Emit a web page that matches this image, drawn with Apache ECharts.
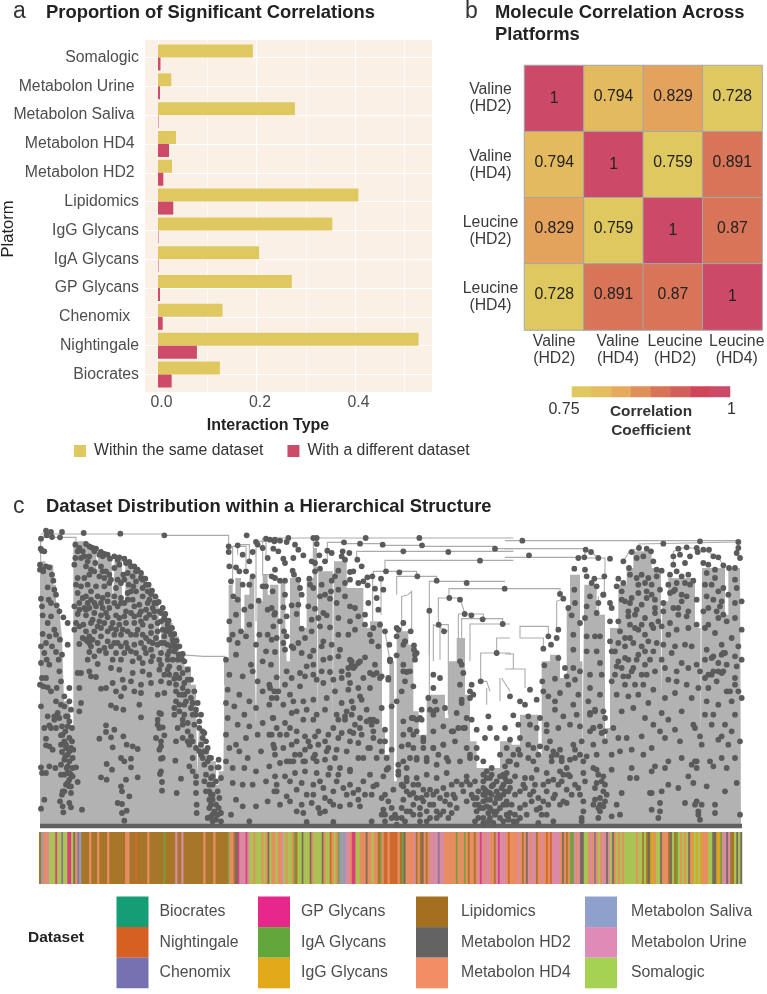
<!DOCTYPE html>
<html><head><meta charset="utf-8">
<style>html,body{margin:0;padding:0;background:#fff}#c{width:767px;height:994px;filter:blur(0.4px)}</style>
<script src="https://cdn.jsdelivr.net/npm/echarts@6/dist/echarts.min.js"></script>
</head><body><div id="c"></div>
<script>
// ---------- panel a ----------
const platforms=['Somalogic','Metabolon Urine\u00a0','Metabolon Saliva\u00a0','Metabolon HD4\u00a0','Metabolon HD2\u00a0','Lipidomics','IgG Glycans','IgA Glycans','GP Glycans','Chenomix\u00a0\u00a0','Nightingale','Biocrates'];
const withinSame=[0.1926,0.027,0.278,0.0365,0.0284,0.4068,0.354,0.2054,0.2716,0.131,0.529,0.1257];
const withDifferent=[0.005,0.004,0.001,0.0223,0.0108,0.031,0.001,0.001,0.004,0.0095,0.079,0.0277];
const axisTicksA=[0,0.2,0.4];
// ---------- panel b ----------
const moleculesY=['Valine\n(HD2)','Valine\n(HD4)','Leucine\n(HD2)','Leucine\n(HD4)'];
const moleculesX=['Valine\n(HD2)','\u00a0\u00a0Valine\n\u00a0\u00a0(HD4)','\u00a0Leucine\n\u00a0(HD2)','\u00a0\u00a0Leucine\n\u00a0\u00a0(HD4)'];
const corr=[[1,0.794,0.829,0.728],[0.794,1,0.759,0.891],[0.829,0.759,1,0.87],[0.728,0.891,0.87,1]];
const scaleSteps=['#DFC860','#E3BD5E','#E5AA5D','#E0915B','#D97358','#D45E5A','#CF4658','#CC4A68'];
// ---------- panel c: strip of dataset codes, one per leaf group ----------
const datasets=['Biocrates','Nightingale','Chenomix','GP Glycans','IgA Glycans','IgG Glycans','Lipidomics','Metabolon HD2','Metabolon HD4','Metabolon Saliva','Metabolon Urine','Somalogic'];
const datasetCodes=['B','N','C','G','A','I','L','2','4','V','U','S'];
const datasetColors=['#159D75','#D65F22','#7671B0','#E7278A','#62A63C','#E2AA1B','#A2701F','#636363','#F38D66','#8EA0CB','#E08AB8','#A6D254'];
const leafStrip1='LV44USSSGSSCSSGGS24CVLLLL4LLL4LLLL4LLLLLLLL44LLLNLLLLL4LLLLLLLALLLLLULLULLLLLLLLLL4LLLL4LLLLLLA44L2GUUUGUSS4SSS4S42S44S';
const leafStrip2='44US4SS4ALSS2SSS24SSSS24SSN4S4AVVVUU4GGSS444244S44LA4NN4NNNN4LA24444UL4L24L4UUUUCUU444444A444A4L44L4UGU4UU44LUGUUU4N';
const leafStrip3='4444U4L42U4UUL44U4N4NUUUU424L4AAU4U22SS4U4C4S4UU2US24S4S4SSSSSS4SSLSL2II4SS2444L2SLAS4S4S24ISISI444SS22IIAUU2ULLS2S2';
// dendrogram silhouette: [leaf position, top of the stems]
const silhouetteL=[12,100,28,150,33,110,52,170,60,240,72,270,78,330,84,520,100,545,105,600,112,40,133,40,150,55,180,68,183,150,188,70,210,85,226,90,231,240,236,95,250,95,258,230,268,105,290,120,305,140,325,165,345,205,368,240,372,420,376,250,392,285,410,325,428,370,445,415,465,470,480,540,484,740,488,610,505,660,520,700,540,770,548,730,562,740,566,400,578,170,590,215,598,150,615,310,625,200,640,150,655,280,660,600,664,220,680,140,695,200];
const silhouetteM=[0,170,25,220,28,540,32,160,46,330,50,400,60,150,90,300,110,150,130,60,141,590,145,130,188,580,192,100,230,180,280,300,300,280,336,600,345,680,358,400,372,760,380,310,415,350,430,550,446,620,470,500,525,570,535,400,560,330,585,500,600,640,620,720,640,720,690,640];
const silhouetteR=[15,620,20,650,45,560,100,680,110,400,135,380,165,450,185,240,195,140,225,400,232,700,238,170,275,260,300,650,305,600,315,300,340,170,365,120,385,70,440,120,468,520,472,220,490,150,570,300,587,640,591,120,660,260,670,120,705,60];
const silhouetteEnd=[2115,60];
// tree connectors: polylines of [leaf, height] pairs
const linksL=[[14,100,14,28,120,28,120,40],[14,18,385,18],[385,22,578,22,578,60],[432,380,502,385,566,385,566,470],[28,110,28,170],[45,118,45,170],[590,170,590,55,630,55,630,120],[605,80,605,50,640,50,640,100],[578,60,590,60],[680,30,680,140,702,140],[660,60,660,280],[655,40,690,40,690,90]];
const linksM=[[0,30,730,30],[130,30,130,90],[172,100,172,43,222,43],[222,47,338,47],[338,52,456,52],[456,55,675,55,675,62,730,62],[260,95,260,70,730,70],[345,130,345,97,730,97],[310,150,310,130,440,130,440,145],[380,200,380,145,500,145,500,158],[478,380,478,160,705,160],[537,210,537,182,704,182],[505,290,505,210,570,210,585,258],[490,400,490,290,535,310],[510,395,510,290,535,290,535,400],[565,330,565,258,640,258,640,274],[575,330,575,272,698,272,698,288],[600,400,600,288,720,288],[632,460,632,375,720,375,720,380],[680,375,680,330,720,330],[632,460,650,460,660,490],[650,530,650,480],[690,520,690,450],[695,450,720,490],[415,200,425,190,425,310],[395,310,395,205,415,200],[345,310,360,400],[308,150,308,280],[333,155,333,260],[478,250,478,620],[535,400,535,560]];
const linksR=[[0,38,700,38,700,60],[0,62,240,62,240,90],[0,88,230,88],[0,182,165,182,165,200],[155,300,155,220,175,212],[190,240,190,300],[45,330,45,295,130,295,130,325],[45,330,115,330,115,360],[0,378,25,378,25,423],[0,423,60,423,60,480],[240,90,300,90,300,145],[258,72,280,90],[268,152,298,152,298,200],[280,255,280,205],[400,48,700,42],[402,48,402,60],[370,72,402,60],[355,100,372,72],[510,60,585,60],[505,110,505,70,530,62],[595,65,640,88,655,112]];
// tree nodes: flat [leaf, height] pairs
const nodesL=[30,8,45,12,78,12,32,22,48,27,72,28,15,32,143,15,253,17,385,22,18,68,25,70,14,62,12,110,20,125,30,115,40,118,12,125,22,130,48,140,52,158,35,178,55,185,60,200,15,212,38,215,18,235,45,225,62,232,70,250,20,262,45,265,82,268,35,285,95,285,55,305,20,318,40,325,30,345,60,320,72,335,95,350,15,355,48,355,25,375,60,372,78,380,32,395,68,395,40,410,15,405,70,430,30,450,18,450,12,470,35,478,45,490,22,475,62,480,75,460,100,480,85,505,60,520,75,530,15,535,100,520,105,545,35,565,55,565,70,570,90,565,100,580,40,592,60,600,78,595,95,595,108,600,88,610,30,632,75,622,100,630,108,640,40,655,30,652,50,665,75,650,90,650,105,660,112,665,78,672,95,680,110,690,85,695,40,715,15,718,58,720,75,710,95,715,110,720,120,718,18,735,30,735,95,735,75,740,100,755,125,762,100,775,85,790,78,800,105,795,25,815,72,820,80,835,100,825,105,838,82,853,15,842,138,845,118,50,130,60,140,70,118,90,135,90,155,100,115,110,150,115,165,125,178,105,195,115,210,130,125,150,145,150,160,140,155,170,190,145,205,150,220,140,235,120,250,110,262,140,275,135,290,145,300,160,315,150,120,170,135,175,165,190,180,175,205,175,220,165,240,180,255,165,278,170,292,175,320,180,335,190,150,205,165,215,185,205,200,210,215,220,235,205,255,210,275,195,300,190,320,205,340,215,355,225,115,235,130,225,145,240,160,240,180,235,200,240,220,240,245,235,265,225,290,215,310,230,330,245,350,240,370,250,125,258,150,262,175,255,195,262,215,268,240,262,265,265,285,255,310,260,330,270,355,268,385,270,395,290,120,285,142,290,165,285,185,295,205,285,225,300,250,290,270,285,295,285,320,290,345,295,365,285,380,305,400,310,115,305,160,325,155,340,170,335,195,325,215,340,235,320,255,320,275,310,300,320,320,320,345,315,360,330,385,325,410,335,185,345,205,360,225,355,245,345,270,345,295,350,315,345,340,340,365,350,395,350,420,355,130,348,160,372,175,385,190,368,240,375,265,375,285,370,310,390,330,375,350,385,375,375,395,395,415,370,425,395,155,395,185,408,230,395,255,395,290,400,320,405,345,400,375,410,400,415,135,435,125,435,160,430,180,447,165,445,225,420,250,425,290,435,320,430,340,440,370,425,395,425,415,452,430,450,445,465,230,465,260,455,285,460,315,470,345,465,375,460,400,465,420,470,440,480,455,490,195,482,210,480,240,490,265,480,255,505,295,490,315,495,365,500,385,495,420,490,445,500,465,510,130,480,135,525,225,532,240,540,262,545,310,530,315,568,375,558,415,540,430,550,445,560,465,540,480,545,130,550,210,592,235,605,365,575,370,600,380,598,425,600,440,590,455,610,475,590,490,580,210,612,225,628,190,632,262,625,360,630,385,622,420,640,440,630,460,650,480,660,230,658,272,650,290,655,305,663,375,655,370,665,495,650,510,670,520,690,255,690,285,692,265,700,418,698,470,690,495,680,212,708,285,718,228,725,375,692,460,715,470,730,505,710,525,720,545,718,195,748,212,755,270,755,305,748,375,730,378,762,435,752,480,745,510,740,530,745,255,775,258,790,378,788,422,795,480,765,505,760,520,770,540,760,555,750,245,825,258,828,258,855,272,848,280,805,265,878,480,795,482,830,482,855,510,790,525,800,530,815,540,830,550,810,555,855,520,840,530,860,540,875,515,870,555,880,160,55,170,60,180,62,195,72,205,78,215,80,235,85,250,88,265,92,280,102,295,115,305,125,315,135,328,152,338,170,348,188,358,205,368,222,380,240,388,258,398,278,408,300,415,318,422,338,430,355,440,378,445,400,455,425,465,455,475,490,485,525,495,560,505,615,515,660,525,690,548,695,548,718,578,55,578,72,605,52,632,22,660,42,690,32,715,40,580,115,600,118,620,80,640,100,650,72,665,50,680,60,695,90,585,160,610,130,630,130,650,145,680,175,592,205,605,215,620,170,640,170,668,218,690,175,710,190,580,280,600,260,625,245,645,235,695,245,715,260,590,320,615,310,640,290,670,320,695,320,580,335,605,345,630,325,660,350,690,370,570,395,600,380,645,410,680,400,705,410,580,440,620,445,650,430,665,460,700,470,575,485,610,500,640,520,680,490,715,490,570,525,595,535,625,560,660,540,700,530,575,570,605,590,640,595,680,585,710,570,570,620,600,650,630,630,665,620,700,620,580,660,610,670,635,690,675,670,715,660,570,700,590,720,625,720,660,730,700,715,590,765,620,770,650,770,690,760,715,790,600,815,620,835,660,835,695,820,640,880,585,860];
const nodesL2=[150,48,165,58,175,70,190,80,200,85,222,92,245,95,270,105,285,115,300,130,320,155,330,170,345,198,362,225,375,255,385,275,395,300,405,320,412,345,420,360,428,380,438,395,125,70,145,85,160,85,175,130,200,130,225,155,245,155,265,155,285,190,125,195,140,210,155,225,175,225,195,225,215,200,235,225,255,225,275,215,295,235,315,250,335,225,355,250,375,280,390,310,130,245,150,245,170,275,190,280,210,255,230,285,250,270,270,250,295,265,315,280,340,260,365,310,385,345,405,355,415,340,130,295,150,310,175,310,195,300,215,310,240,305,260,305,285,320,305,305,330,330,350,345,375,345,400,370,140,330,165,355,150,335,160,345,210,375,235,345,255,355,275,360,300,375,325,360,345,365,370,395,395,380,410,395,430,420,420,440,440,435,400,440,385,440,455,455,440,500,450,520,470,525,480,560,430,500,420,520,430,530,445,530,415,560,440,575,455,585,470,560,490,600,500,630,500,610,510,640,465,625,470,640,455,640,490,670,500,690,505,670,515,700,525,750,530,770,520,790,530,800,520,815,525,830,545,790,548,840,535,850,545,860,530,880,525,865,85,640,90,660,100,670,88,685,100,700,92,720,105,740,100,735,110,745,85,740,95,765,105,775,80,790,90,770,55,575,45,600,80,620,25,600,65,555,85,535,95,565,370,555,365,590,375,640,380,690,372,738];
const nodesM=[55,30,140,30,287,30,448,30,222,43,270,47,338,50,456,52,675,62,400,70,535,72,630,98,348,130,388,133,442,145,500,158,590,165,704,182,538,210,570,215,478,248,584,258,604,262,638,274,698,288,506,290,522,310,680,375,632,460,0,35,15,35,30,38,50,42,10,62,25,70,75,50,85,65,100,82,70,90,40,92,45,105,15,125,5,145,15,150,30,158,45,158,68,128,72,140,85,155,90,180,95,200,130,30,140,48,148,82,125,100,135,105,165,100,172,68,185,75,218,70,238,75,215,85,225,95,262,95,275,115,205,128,250,130,240,132,150,122,135,130,118,152,120,170,155,170,130,180,195,145,185,158,150,205,165,200,180,212,115,235,135,242,160,255,170,262,183,190,205,185,225,165,240,155,265,165,280,160,292,148,307,145,333,152,293,172,315,182,340,185,225,205,200,225,240,235,255,240,295,225,320,210,325,245,285,260,265,265,240,280,205,270,125,275,145,270,95,302,65,232,85,230,45,200,40,238,5,240,15,255,50,265,80,258,30,280,10,295,42,310,50,325,20,330,5,335,65,355,40,345,85,345,105,330,125,310,150,295,180,298,205,320,235,320,255,305,285,290,300,320,330,290,305,340,345,310,358,350,380,325,405,340,400,285,422,310,385,305,160,340,185,350,210,365,155,355,130,368,120,385,95,375,15,372,45,365,70,360,110,415,130,410,160,395,180,390,205,385,245,400,265,405,250,420,285,388,325,355,315,410,360,400,380,382,440,375,432,352,400,410,410,432,435,395,235,440,215,430,180,432,155,430,130,440,90,435,105,445,50,430,65,450,20,448,45,470,0,480,25,490,60,500,90,475,140,455,160,465,190,455,215,450,240,465,280,450,310,440,330,450,355,450,360,395,405,460,430,475,395,490,300,480,265,480,235,485,275,515,195,490,170,510,130,515,100,520,70,520,40,530,20,510,5,510,65,555,80,550,110,545,140,560,165,545,200,560,225,565,250,540,290,545,310,575,335,540,365,535,380,520,425,570,455,575,490,550,525,540,560,555,590,570,605,575,600,510,610,500,575,525,10,570,45,585,100,575,130,575,205,575,225,575,255,590,300,575,345,605,400,580,420,605,440,610,460,630,490,610,520,595,550,610,580,600,620,605,655,565,30,620,60,600,105,625,135,625,165,640,215,615,250,615,275,620,310,630,365,665,395,655,430,660,460,660,490,660,520,650,555,640,590,660,620,660,645,630,660,600,680,630,10,650,40,660,75,680,105,665,135,680,170,670,200,665,240,640,265,645,295,660,335,670,30,705,60,700,100,700,140,700,180,720,210,720,240,725,280,690,320,690,350,725,385,730,410,720,440,695,470,700,500,710,530,690,570,700,600,690,640,700,665,720,690,680,705,715,15,745,45,745,75,735,105,730,140,735,175,740,205,740,240,730,280,760,310,775,340,745,355,720,385,740,410,760,440,750,470,740,500,750,530,735,560,760,590,745,615,760,650,750,690,745,710,760,20,790,50,805,80,785,110,800,130,770,160,780,190,790,220,780,265,785,305,800,335,810,370,785,400,775,430,795,460,785,490,800,520,780,550,800,580,790,625,790,645,785,665,775,695,780,30,830,60,820,95,830,125,825,150,855,180,820,210,835,265,815,270,835,340,845,365,840,400,815,430,830,460,820,490,830,525,820,560,840,590,820,625,830,650,815,680,810,700,830,110,882,190,882,305,880,345,860,380,870,420,850,450,860,480,870,510,860,545,855,620,850,640,870,660,840,680,850,710,860,645,800,660,795,675,825,690,810,640,840,655,855];
const nodesM2=[345,800,355,820,335,860,345,880,365,870,380,890,375,860,395,840,410,790,420,800,395,770,410,750,430,770,445,770,440,810,455,810,470,800,480,785,500,790,510,810,530,800,545,770,540,830,470,850,450,840,430,860,410,850,395,870,405,880,450,880,470,880,500,850,520,850,535,870,500,870,480,830,555,810,575,770,600,770,605,800,590,760,610,810,620,810,640,800,650,790,665,800,680,790,700,800,715,790,630,840,650,835,670,850,690,840,710,830,625,870,660,870,690,870,640,885,670,885,700,880,715,870,615,880,640,780,670,770,680,760,700,740,640,760,660,750,650,730,665,740,700,770,685,800,660,815,675,860,655,880,640,820,615,830,20,600,50,620,80,610,115,640,145,650,175,660,205,630,240,610,270,600,310,610,345,640,15,680,50,700,90,680,130,690,165,695,195,690,230,670,265,690,300,660,330,640,20,770,60,760,95,765,150,760,200,760,240,770,130,800,165,810,190,830,230,800,250,795,80,850,100,855,145,840,165,850,240,830,105,700,5,620,80,640,145,610,190,600,245,560,270,570,290,580,305,590,320,580,230,550,215,525,245,520,270,505,235,420,245,410,255,415,270,400,240,395,300,435,320,435,335,445,70,700,65,650,120,655,175,620,300,740,320,770,285,800,435,380,432,365,360,395,400,350,405,340,380,300,310,300,490,440,510,450,490,480,475,510,495,520,480,545,490,560,500,545,570,400,570,470,575,515,580,435,605,470,600,490,575,410,355,455,420,430,400,430,455,545,450,570,440,575,430,570,400,620,415,650,430,620,460,640,385,710,400,700,420,690,440,690,470,690,490,660,505,680,520,650,535,700,545,610,565,600,585,600,600,680,620,690,640,740,350,690];
const nodesR=[52,38,475,47,585,40,700,42,72,82,242,65,258,72,280,90,315,92,238,88,220,90,208,122,298,145,268,152,275,175,295,200,402,60,380,72,425,62,438,70,520,62,545,58,575,60,595,65,612,65,625,85,640,88,655,112,355,100,372,120,395,90,415,85,445,100,455,125,470,128,505,85,505,110,525,80,540,105,555,85,578,72,595,105,610,110,630,125,672,120,690,120,695,75,700,60,705,90,240,125,245,145,260,165,340,152,355,165,350,190,335,175,375,140,395,150,410,140,420,165,440,170,455,145,465,185,495,140,515,130,530,145,550,140,565,158,605,135,630,150,655,180,670,200,690,155,695,180,165,198,175,212,208,185,190,240,210,225,245,235,255,205,280,225,295,200,315,225,320,240,350,215,375,225,400,195,425,190,450,215,475,225,495,195,510,185,530,200,545,205,575,215,605,205,625,215,645,235,655,260,690,225,710,220,160,305,200,262,225,285,240,270,275,255,315,280,340,280,370,265,395,245,420,270,450,255,475,250,495,285,520,260,545,265,575,290,595,250,610,290,640,270,665,280,690,270,710,305,130,325,138,350,155,330,205,320,245,325,270,325,285,325,315,340,345,310,375,290,400,305,420,320,445,300,470,295,490,320,515,305,550,300,600,300,630,315,650,350,680,330,700,355,115,362,160,390,205,365,245,370,275,370,330,370,360,355,385,345,410,355,445,370,475,350,510,355,540,350,560,355,605,365,625,385,655,375,690,385,710,395,118,412,180,420,205,420,225,430,285,405,335,415,370,395,395,395,420,410,470,395,500,375,530,405,575,410,600,395,640,405,665,410,695,415,112,460,150,452,185,445,210,455,255,440,290,440,330,440,355,445,380,430,425,440,450,430,480,420,515,430,550,420,585,430,620,440,650,435,690,450,75,485,115,490,165,495,190,470,220,500,255,480,285,500,320,460,360,470,390,470,415,470,445,485,490,455,515,460,545,470,580,480,610,480,635,460,665,490,700,490,15,505,45,520,60,530,95,515,130,505,150,520,205,530,250,520,270,545,295,550,335,500,370,505,400,500,430,525,480,510,510,495,560,510,605,520,640,530,680,520,710,510,25,562,40,590,70,565,105,570,125,590,150,545,175,565,215,560,255,555,265,600,300,570,350,550,385,540,420,570,470,555,490,575,530,550,565,590,600,560,625,560,660,590,690,560,0,600,15,635,45,630,75,590,95,600,125,610,160,600,195,590,225,595,255,610,290,615,325,600,365,630,410,625,445,590,465,610,510,605,570,600,585,625,620,590,650,625,680,610,5,660,40,665,70,650,105,655,135,640,165,665,205,650,230,640,265,650,300,640,340,630,380,665,440,660,480,630,525,640,590,650,640,635,670,650,705,640,10,700,35,710,70,690,100,680,140,685,170,690,210,665,245,685,275,680,320,680,345,670,415,680,450,715,490,700,530,690,570,700,615,700,650,690,690,690,5,735,30,745,60,750,95,725,125,735,165,730,195,745,235,735,275,725,295,745,320,725,380,720,395,750,440,730,480,720,550,745,575,720,625,715,665,720,15,780,55,770,85,790,115,770,150,800,185,785,220,780,275,765,300,770,350,795,375,750,435,795,490,770,520,780,565,765,605,775,660,790,695,765,20,830,45,840,80,820,105,840,145,810,185,825,235,820,285,810,295,835,335,830,440,845,465,825,540,825,575,820,630,830,705,860,10,875,25,880,65,860,100,885,145,880,230,870,280,870,320,865,345,860,460,870,580,860,585,875,630,855];
const nodesR2=[0,750,15,760,30,800,45,790,60,780,75,800,90,770,100,810,115,820,125,790,130,830,160,770,170,760,190,740,200,800,210,770,165,830,175,820,95,845,110,860,125,860,60,830,35,880,45,870,15,855,30,860,5,820,0,790,15,700,25,680,45,680,85,660,125,660,145,670,155,680,140,700,170,700,185,720,195,695,210,690,225,680,235,700,145,755,175,740,130,760,80,750,85,700,265,720,280,740,290,760,270,780,295,790,305,800,285,830,280,840,300,820,265,830,270,815,240,760,225,800,235,850,230,880,285,850,270,550,255,560,265,600,300,610,285,595,360,220,380,210,400,170,430,150,425,210,440,200,450,240,370,250,390,260,410,230,440,290,460,280,390,300,410,290,430,340,455,345,340,345,360,330,375,330,400,380,420,370,435,395,360,390,350,420,385,420,410,440,370,445,320,370,340,400,490,170,515,165,540,165,555,170,505,190,530,220,505,240,520,240,550,250,620,170,640,190,600,170,650,220,610,240,635,250,620,390,640,430,625,430,610,440,600,450,655,430,660,375,650,380,675,490,690,470,440,795,470,790,575,700,560,710,580,850,570,830,590,830,465,850];
const leafSpan=[12,2118];
const offsetM=702, offsetR=1407, heightBase=894;

// ---------- build ----------
const FONT='"Liberation Sans",Arial,sans-serif';
const GRAY='#4d4d4d';
const LABEL=15.8;
function pairs(flat,dx){const o=[];for(let i=0;i<flat.length;i+=2)o.push([flat[i]+dx,flat[i+1]]);return o;}
const silhouette=[...pairs(silhouetteL,0),...pairs(silhouetteM,offsetM),...pairs(silhouetteR,offsetR),[silhouetteEnd[0],silhouetteEnd[1]]];
const nodes=[...pairs(nodesL,0),...pairs(nodesL2,0),...pairs(nodesM,offsetM),...pairs(nodesM2,offsetM),...pairs(nodesR,offsetR),...pairs(nodesR2,offsetR)];
const links=[...linksL.map(l=>pairs(l,0)),...linksM.map(l=>pairs(l,offsetM)),...linksR.map(l=>pairs(l,offsetR))];
const stripAll=leafStrip1+leafStrip2+leafStrip3;

const heatData=[];corr.forEach((row,r)=>row.forEach((v,c)=>heatData.push({value:[c,r,v],label:{offset:[0,v===1?0:-2]}})));

function txt(x,y,text,size,weight,fill,extra){return Object.assign({type:'text',z:10,x:x,y:y,style:Object.assign({text:text,font:(weight||'normal')+' '+size+'px '+FONT,fill:fill||'#222',textVerticalAlign:'middle'},extra&&extra.style||{})},extra&&extra.el||{});}

const stripSeries=datasets.map((d,k)=>{
  const items=[];for(let i=0;i<stripAll.length;i++)if(stripAll[i]===datasetCodes[k])items.push([i]);
  return {type:'custom',name:d,xAxisIndex:3,yAxisIndex:3,itemStyle:{color:datasetColors[k]},data:items,silent:true,
    encode:{x:0},
    renderItem:(p,api)=>{const a=api.coord([api.value(0),0]);const b=api.coord([api.value(0)+1,1]);
      return {type:'rect',shape:{x:a[0],y:b[1],width:b[0]-a[0]+0.3,height:a[1]-b[1]},style:{fill:datasetColors[k],opacity:0.78}};}};
});
const legendCol=(left,names,pad)=>({left:left,top:896.5,padding:0,orient:'vertical',itemWidth:32,itemHeight:30.6,itemGap:0,icon:'rect',selectedMode:false,data:names,textStyle:{fontFamily:FONT,fontSize:LABEL,color:GRAY,padding:[0,0,0,pad]}});

const option={animation:false,backgroundColor:'#fff',textStyle:{fontFamily:FONT},
 grid:[
  {left:158,top:40,width:295.5,height:352,containLabel:false},
  {left:145,top:57.5,width:287,height:317},
  {left:524.5,top:65.5,width:241,height:264.5},
  {left:39,top:832,width:703,height:52,show:true,borderWidth:0,backgroundColor:'#B98C50'},
  {left:36,top:528,width:709,height:298},
  {left:572,top:386.5,width:158,height:10.5}
 ],
 xAxis:[
  {gridIndex:0,type:'value',min:0,max:0.6,interval:0.2,axisLine:{show:false},axisTick:{show:false},
   axisLabel:{color:GRAY,fontSize:LABEL,margin:3,padding:[0,0,0,7],fontFamily:FONT,formatter:v=>axisTicksA.some(t=>Math.abs(t-v)<1e-6)?v.toFixed(1):''},
   splitLine:{show:true,lineStyle:{color:'#fff',width:1.2}},minorTick:{show:false,splitNumber:2},minorSplitLine:{show:true,lineStyle:{color:'#fff',width:0.6}}},
  {gridIndex:1,type:'value',min:-0.0264,max:0.5563,show:false,splitLine:{show:false}},
  {gridIndex:2,type:'category',data:moleculesX,position:'bottom',axisLine:{show:false},axisTick:{show:false},axisLabel:{color:'#3a3a3a',fontSize:LABEL,lineHeight:17,margin:3,interval:0,fontFamily:FONT},splitArea:{show:false}},
  {gridIndex:3,type:'value',min:0,max:stripAll.length,show:false,splitLine:{show:false}},
  {gridIndex:4,type:'value',min:0,max:2127,show:false,splitLine:{show:false}},
  {gridIndex:5,type:'category',data:scaleSteps,show:false}
 ],
 yAxis:[
  {gridIndex:0,type:'value',show:false,min:0,max:1,splitLine:{show:false}},
  {gridIndex:1,type:'category',data:platforms,inverse:true,boundaryGap:false,axisLine:{show:false},axisTick:{show:false},
   axisLabel:{color:GRAY,fontSize:LABEL,margin:6,interval:0,padding:[0,0,8,0],fontFamily:FONT},splitLine:{show:true,lineStyle:{color:'#fff',width:1.2}}},
  {gridIndex:2,type:'category',data:moleculesY,inverse:true,axisLine:{show:false},axisTick:{show:false},axisLabel:{color:'#3a3a3a',fontSize:LABEL,lineHeight:17,margin:34,interval:0,align:'center',fontFamily:FONT,padding:[14,0,0,0]}},
  {gridIndex:3,type:'value',min:0,max:1,show:false,splitLine:{show:false}},
  {gridIndex:4,type:'value',min:0,max:heightBase,inverse:true,show:false,splitLine:{show:false}},
  {gridIndex:5,type:'category',data:['scale'],show:false}
 ],
 visualMap:[{show:false,seriesIndex:2,dimension:2,pieces:[{min:0.7,max:0.77,color:'#DFC860'},{min:0.77,max:0.81,color:'#E3BA5D'},{min:0.81,max:0.85,color:'#E3A35C'},{min:0.85,max:0.95,color:'#D87458'},{min:0.95,max:1.01,color:'#CC4A68'}]}],
 legend:[
  {left:74,top:443,padding:0,itemWidth:12,itemHeight:12,itemGap:24,icon:'rect',selectedMode:false,data:['Within the same dataset','With a different dataset'],textStyle:{fontFamily:FONT,fontSize:LABEL,color:'#333',padding:[0,0,0,3]}},
  legendCol(116.5,datasets.slice(0,3),6),
  legendCol(258,datasets.slice(3,6),6),
  legendCol(416,datasets.slice(6,9),8),
  legendCol(585,datasets.slice(9,12),9)
 ],
 graphic:{elements:[
  {type:'rect',z:-1,shape:{x:145,y:40,width:287,height:352},style:{fill:'#FBF0E6'}},
  txt(13,12,'a',23,'normal','#333'),
  txt(46,13,'Proportion of Significant Correlations',18.4,'bold'),
  txt(465,12,'b',23,'normal','#333'),
  txt(495,13,'Molecule Correlation Across',18.4,'bold'),
  txt(495,35,'Platforms',18.4,'bold'),
  txt(13,507,'c',23,'normal','#333'),
  txt(46,507,'Dataset Distribution within a Hierarchical Structure',18.4,'bold'),
  txt(268,426,'Interaction Type',16,'bold','#222',{style:{textAlign:'center'}}),
  txt(8,229,'Platorm',16.5,'normal','#222',{style:{textAlign:'center'},el:{rotation:Math.PI/2}}),
  txt(564,410,'0.75',16,'normal','#333',{style:{textAlign:'center'}}),
  txt(731.5,410,'1',16,'normal','#333',{style:{textAlign:'center'}}),
  txt(651,412,'Correlation',15.4,'bold','#333',{style:{textAlign:'center'}}),
  txt(651,431,'Coefficient',15.4,'bold','#333',{style:{textAlign:'center'}}),
  txt(28,938,'Dataset',15.5,'bold','#222')
 ]},
 series:[
  {type:'bar',name:'Within the same dataset',xAxisIndex:1,yAxisIndex:1,data:withinSame,barWidth:13,barGap:0,clip:false,itemStyle:{color:'#DFC860'}},
  {type:'bar',name:'With a different dataset',xAxisIndex:1,yAxisIndex:1,data:withDifferent,barWidth:13,barGap:0,clip:false,itemStyle:{color:'#CD4A68'}},
  {type:'heatmap',xAxisIndex:2,yAxisIndex:2,data:heatData,itemStyle:{borderColor:'#a6a6a6',borderWidth:1},
   label:{show:true,fontSize:LABEL,color:'#222',fontFamily:FONT,formatter:p=>String(p.value[2])},emphasis:{disabled:true}},
  {type:'heatmap',xAxisIndex:5,yAxisIndex:5,data:scaleSteps.map((c,i)=>({value:[i,0,i],itemStyle:{color:c}})),emphasis:{disabled:true}},
  {type:'line',name:'stems',z:1,xAxisIndex:4,yAxisIndex:4,step:'end',data:silhouette,symbol:'none',silent:true,lineStyle:{width:0,opacity:0},areaStyle:{color:'#b2b2b2',opacity:1,origin:'end'}},
  {type:'custom',name:'links',z:3,xAxisIndex:4,yAxisIndex:4,data:links.map((l,i)=>[i]),silent:true,encode:{x:0},
   renderItem:(p,api)=>{const pts=links[api.value(0)].map(q=>api.coord(q));return {type:'polyline',shape:{points:pts},style:{fill:null,stroke:'#ababab',lineWidth:1.1}};}},
  {type:'scatter',name:'nodes',z:6,xAxisIndex:4,yAxisIndex:4,data:nodes,symbolSize:5.8,silent:true,large:false,itemStyle:{color:'#5b5b5b',opacity:1},clip:false},
  {type:'line',name:'leaves',z:5,xAxisIndex:4,yAxisIndex:4,data:[[leafSpan[0],heightBase],[leafSpan[1],heightBase]],symbol:'none',clip:false,silent:true,lineStyle:{color:'#606060',width:4.5}},
  ...stripSeries
 ]
};
const chart=echarts.init(document.getElementById('c'),null,{renderer:'canvas'});
chart.setOption(option);
</script></body></html>
